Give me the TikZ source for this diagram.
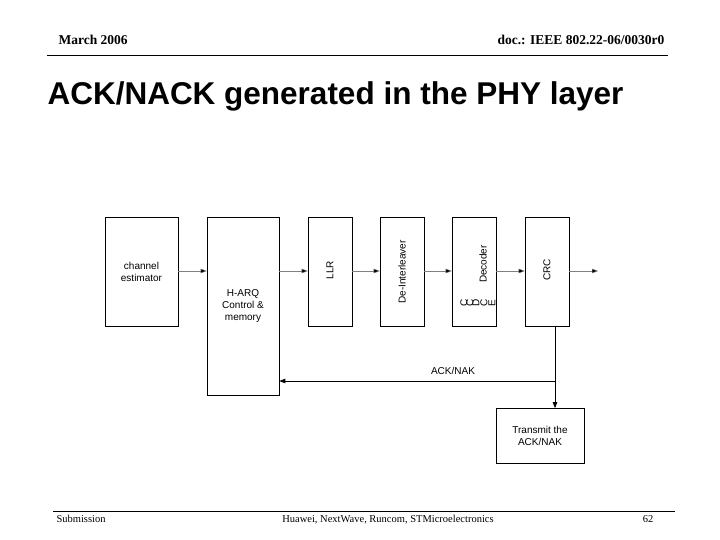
\documentclass[tikz,border=0pt]{standalone}
\usepackage{fontspec}
\setmainfont{Liberation Serif}
\newfontfamily\arial{Liberation Sans}
\usetikzlibrary{arrows.meta}
\begin{document}
\begin{tikzpicture}[x=1pt,y=-1pt,
  blk/.style={draw,line width=0.6pt,inner sep=0pt,font=\arial\fontsize{10}{12}\selectfont,align=center},
  vtxt/.style={inner sep=0pt,font=\arial\fontsize{10}{12}\selectfont,rotate=90},
  flow/.style={draw=gray,line width=0.4pt,-{Triangle[length=6pt,width=4.5pt,fill=black]}},
  fb/.style={draw,line width=0.8pt,-{Triangle[length=6pt,width=4.5pt]}},
  ft/.style={font=\fontsize{10.5}{12}\selectfont,anchor=base}]
\useasboundingbox (0,0) rectangle (720,540);
\node[anchor=base west,font=\bfseries\fontsize{13.5}{15}\selectfont] (hl) at (55,45) {March 2006};
\node[anchor=base east,font=\bfseries\fontsize{13.5}{15}\selectfont] (hr) at (668,45) {doc.: IEEE 802.22-06/0030r0};
\draw[line width=0.8pt] (47,55) -- (668,55);
\node[anchor=base west,font=\arial\bfseries\fontsize{31.5}{36}\selectfont] (title) at (44,105) {ACK/NACK generated in the PHY layer};
\draw[line width=0.8pt] (53,511) -- (675,511);
\node[ft,anchor=base west] (f1) at (53,522) {Submission};
\node[ft] (f2) at (388,522) {Huawei, NextWave, Runcom, STMicroelectronics};
\node[ft,anchor=base east] (f3) at (657,522) {62};

\node[blk,minimum width=73pt,minimum height=109pt] (ce) at (141.5,271.5) {channel\\estimator};
\node[blk,minimum width=72pt,minimum height=178pt] (harq) at (243,306) {H-ARQ\\Control \&\\memory};
\node[blk,minimum width=44pt,minimum height=109pt] (llr) at (330,271.5) {};
\node[blk,minimum width=44pt,minimum height=109pt] (di) at (402,271.5) {};
\node[blk,minimum width=44pt,minimum height=109pt] (dec) at (474,271.5) {};
\node[blk,minimum width=44pt,minimum height=109pt] (crc) at (547,271.5) {};
\node[vtxt] (llrt) at (330,270) {LLR};
\node[vtxt] (dit) at (402,272) {De-Interleaver};
\node[vtxt] (dect) at (483,264) {Decoder};
\node[vtxt] (crct) at (547,270) {CRC};
\node[blk,minimum width=88pt,minimum height=55pt] (tx) at (540,436) {Transmit the\\ACK/NAK};
\coordinate (out) at (598,271);
\foreach \x/\c in {464/C,470/C,476/D,484/C,492/E}{\node[vtxt] at (\x,303) {\c};}
\draw[flow] (ce.east |- 0,271) -- (harq.west |- 0,271);
\draw[flow] (harq.east |- 0,271) -- (llr.west |- 0,271);
\draw[flow] (llr.east |- 0,271) -- (di.west |- 0,271);
\draw[flow] (di.east |- 0,271) -- (dec.west |- 0,271);
\draw[flow] (dec.east |- 0,271) -- (crc.west |- 0,271);
\draw[flow] (crc.east |- 0,271) -- (out);
\coordinate (j) at (555,381);
\draw[line width=0.8pt] (555,326) -- (j);
\draw[fb] (j) -- (harq.east |- j) ;
\draw[fb] (j) -- (tx.north -| j);
\node[font=\arial\fontsize{10}{12}\selectfont] (lab) at (453,371) {ACK/NAK};
\end{tikzpicture}
\end{document}
